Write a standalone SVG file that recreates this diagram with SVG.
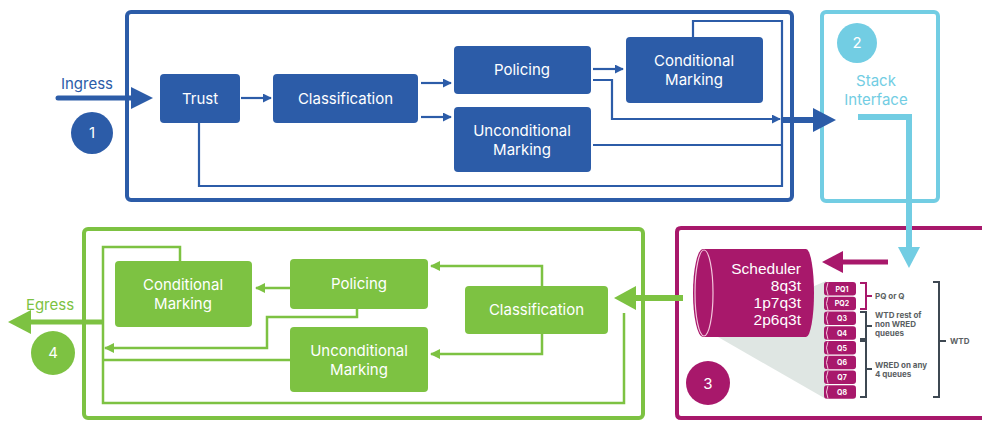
<svg xmlns="http://www.w3.org/2000/svg" width="982" height="438" viewBox="0 0 982 438">
<style>
.t{font-family:Inter,"Open Sans","Liberation Sans",sans-serif;font-size:15px;text-anchor:middle}
.w{fill:#ffffff}
.bn{fill:#2c5ca8}
.gn{fill:#7dc242}
.bl{fill:none;stroke:#2c5ca8;stroke-width:2.2}
.gl{fill:none;stroke:#7dc242;stroke-width:2.5}
.q{fill:#a8186b}
.ql{font-family:Inter,"Liberation Sans",sans-serif;font-size:7px;font-weight:700;fill:#fff;text-anchor:middle}
.s{font-family:Inter,"Liberation Sans",sans-serif;font-size:8px;font-weight:700;fill:#5b5f63}
.br{fill:none;stroke:#3e4852;stroke-width:2}
</style>
<defs>
<marker id="ab" viewBox="0 0 10 10" refX="9" refY="5" markerWidth="9" markerHeight="9" markerUnits="userSpaceOnUse" orient="auto"><path d="M0,0 L10,5 L0,10 z" fill="#2c5ca8"/></marker>
<marker id="ag" viewBox="0 0 10 10" refX="9" refY="5" markerWidth="10" markerHeight="10" markerUnits="userSpaceOnUse" orient="auto"><path d="M0,0 L10,5 L0,10 z" fill="#7dc242"/></marker>
</defs>

<!-- frames -->
<g id="frames">
<rect x="127" y="12" width="665" height="188" rx="4" fill="none" stroke="#2c5ca8" stroke-width="4"/>
<rect x="822" y="12" width="116" height="189" rx="4" fill="none" stroke="#72cde3" stroke-width="4"/>
<rect x="84" y="229" width="559" height="189" rx="4" fill="none" stroke="#7dc242" stroke-width="4"/>
<path d="M984,228 H681 Q677,228 677,232 V414 Q677,418 681,418 H984" fill="none" stroke="#a8186b" stroke-width="4"/>
</g>

<!-- connectors -->
<g id="connectors">
<path d="M58,98 H135" stroke="#2c5ca8" stroke-width="5" stroke-linecap="round" fill="none"/>
<polygon points="131,87 153,98 131,109" fill="#2c5ca8"/>
<path class="bl" d="M241,98 H271" marker-end="url(#ab)"/>
<path class="bl" d="M421,83 H451" marker-end="url(#ab)"/>
<path class="bl" d="M421,117 H451" marker-end="url(#ab)"/>
<path class="bl" d="M593,69 H623" marker-end="url(#ab)"/>
<path class="bl" d="M593,80 H612 V119 H780" marker-end="url(#ab)"/>
<path class="bl" d="M593,145 H782"/>
<path class="bl" d="M693,37 V21 H782 V187"/>
<path class="bl" d="M199,123 V186 H782"/>
<path d="M782,120 H818" stroke="#2c5ca8" stroke-width="6" fill="none"/>
<polygon points="813,108 836,120 813,132" fill="#2c5ca8"/>

<path d="M858,117 H909 V250" stroke="#72cde3" stroke-width="6" fill="none"/>
<polygon points="898,247 909,268 920,247" fill="#72cde3"/>

<path d="M888,262 H838" stroke="#a8186b" stroke-width="5" fill="none"/>
<polygon points="843,251 822,262 843,273" fill="#a8186b"/>

<path d="M683,298 H630" stroke="#7dc242" stroke-width="6" fill="none"/>
<polygon points="636,286 614,298 636,310" fill="#7dc242"/>
<path class="gl" d="M542,286 V266 H431" marker-end="url(#ag)"/>
<path class="gl" d="M542,334 V354 H431" marker-end="url(#ag)"/>
<path class="gl" d="M290,288 H256" marker-end="url(#ag)"/>
<path class="gl" d="M357,309 V317 H267 V348 H105" marker-end="url(#ag)"/>
<path class="gl" d="M290,360 H103"/>
<path class="gl" d="M180,261 V247 H103 V403 H624 V313"/>
<path d="M103,322 H28" stroke="#7dc242" stroke-width="5" fill="none"/>
<polygon points="31,310 8,322 31,334" fill="#7dc242"/>
</g>

<!-- blue stage -->
<g id="ingress-label"><text class="t" x="87" y="89" fill="#2c5ca8">Ingress</text></g>
<g id="step1"><circle cx="92" cy="133" r="21" fill="#2c5ca8"/><text class="t w" x="92" y="138" font-size="14">1</text></g>
<g id="b-trust"><rect class="bn" x="160" y="74" width="80" height="49" rx="4"/><text class="t w" x="200" y="104">Trust</text></g>
<g id="b-classification"><rect class="bn" x="273" y="74" width="145" height="49" rx="4"/><text class="t w" x="345.5" y="104">Classification</text></g>
<g id="b-policing"><rect class="bn" x="454" y="46" width="137" height="48" rx="4"/><text class="t w" x="522" y="75">Policing</text></g>
<g id="b-unconditional"><rect class="bn" x="454" y="107" width="137" height="65" rx="4"/><text class="t w" x="522" y="136">Unconditional</text><text class="t w" x="522" y="154.5">Marking</text></g>
<g id="b-conditional"><rect class="bn" x="626" y="37" width="137" height="66" rx="4"/><text class="t w" x="694" y="66">Conditional</text><text class="t w" x="694" y="84.5">Marking</text></g>

<!-- stack interface -->
<g id="step2"><circle cx="857" cy="43" r="20" fill="#72cde3"/><text class="t w" x="857" y="48" font-size="14">2</text></g>
<g id="stack-label"><text class="t" x="876" y="86" fill="#72cde3">Stack</text><text class="t" x="876" y="104.5" fill="#72cde3">Interface</text></g>

<!-- scheduler -->
<g id="scheduler">
<polygon points="718,337 812,287 826,281 826,399" fill="#dfe6e3"/>
<path d="M703,249 H806 A8,44 0 0 1 806,337 H703 A10,44 0 0 1 703,249 Z" fill="#a8186b"/>
<ellipse cx="704" cy="293" rx="9" ry="43" fill="none" stroke="#f3c6dc" stroke-width="1.2"/>
<g font-family="'Liberation Sans',Arial,sans-serif" font-size="15.5" fill="#ffffff" text-anchor="end">
<text x="801" y="274">Scheduler</text>
<text x="801" y="291">8q3t</text>
<text x="801" y="308">1p7q3t</text>
<text x="801" y="325">2p6q3t</text>
</g>
</g>
<g id="step3"><circle cx="708" cy="383" r="22" fill="#a8186b"/><text class="t w" x="708" y="389" font-size="16">3</text></g>

<g id="queues">
<rect class="q" x="824" y="282" width="32" height="13.5" rx="3"/><path d="M828,282.5 Q825,289 828,295" stroke="#f3c6dc" fill="none" stroke-width="1"/><text class="ql" x="842" y="291.5">PQ1</text>
<rect class="q" x="824" y="296.75" width="32" height="13.5" rx="3"/><path d="M828,297 Q825,303.5 828,310" stroke="#f3c6dc" fill="none" stroke-width="1"/><text class="ql" x="842" y="306.3">PQ2</text>
<rect class="q" x="824" y="311.5" width="32" height="13.5" rx="3"/><path d="M828,312 Q825,318 828,324.5" stroke="#f3c6dc" fill="none" stroke-width="1"/><text class="ql" x="842" y="321">Q3</text>
<rect class="q" x="824" y="326.25" width="32" height="13.5" rx="3"/><path d="M828,326.5 Q825,333 828,339.5" stroke="#f3c6dc" fill="none" stroke-width="1"/><text class="ql" x="842" y="335.8">Q4</text>
<rect class="q" x="824" y="341" width="32" height="13.5" rx="3"/><path d="M828,341.5 Q825,348 828,354" stroke="#f3c6dc" fill="none" stroke-width="1"/><text class="ql" x="842" y="350.5">Q5</text>
<rect class="q" x="824" y="355.75" width="32" height="13.5" rx="3"/><path d="M828,356 Q825,362.5 828,369" stroke="#f3c6dc" fill="none" stroke-width="1"/><text class="ql" x="842" y="365.3">Q6</text>
<rect class="q" x="824" y="370.5" width="32" height="13.5" rx="3"/><path d="M828,371 Q825,377 828,383.5" stroke="#f3c6dc" fill="none" stroke-width="1"/><text class="ql" x="842" y="380">Q7</text>
<rect class="q" x="824" y="385.25" width="32" height="13.5" rx="3"/><path d="M828,385.5 Q825,392 828,398.5" stroke="#f3c6dc" fill="none" stroke-width="1"/><text class="ql" x="842" y="394.8">Q8</text>
</g>

<g id="queue-brackets">
<path d="M860,283 H866 V309 H860 M866,296 H872" fill="none" stroke="#a8186b" stroke-width="2"/>
<text class="s" x="875" y="299">PQ or Q</text>
<path class="br" d="M860,312 H866 V339 H860 M866,326 H872"/>
<text class="s" x="875" y="318">WTD rest of</text>
<text class="s" x="875" y="327">non WRED</text>
<text class="s" x="875" y="336">queues</text>
<path class="br" d="M860,341 H866 V397 H860 M866,369 H872"/>
<text class="s" x="875" y="368">WRED on any</text>
<text class="s" x="875" y="377">4 queues</text>
<path class="br" d="M933,282 H939 V397 H933 M939,341 H946"/>
<text class="s" x="950" y="344">WTD</text>
</g>

<!-- green stage -->
<g id="g-classification"><rect class="gn" x="465" y="286" width="143" height="48" rx="4"/><text class="t w" x="536.5" y="315">Classification</text></g>
<g id="g-policing"><rect class="gn" x="290" y="259" width="138" height="50" rx="4"/><text class="t w" x="359" y="289">Policing</text></g>
<g id="g-unconditional"><rect class="gn" x="290" y="327" width="138" height="65" rx="4"/><text class="t w" x="359" y="356">Unconditional</text><text class="t w" x="359" y="374.5">Marking</text></g>
<g id="g-conditional"><rect class="gn" x="115" y="261" width="137" height="66" rx="4"/><text class="t w" x="183" y="290">Conditional</text><text class="t w" x="183" y="308.5">Marking</text></g>
<g id="egress-label"><text class="t" x="50" y="310" fill="#7dc242">Egress</text></g>
<g id="step4"><circle cx="53" cy="353" r="22" fill="#7dc242"/><text class="t w" x="53" y="358" font-size="14">4</text></g>
</svg>
